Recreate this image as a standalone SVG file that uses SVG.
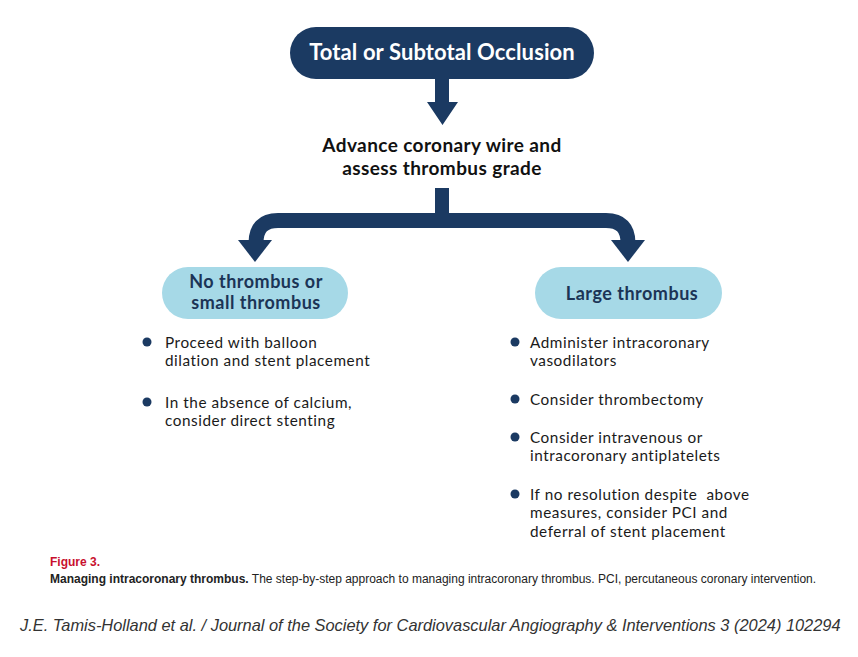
<svg xmlns="http://www.w3.org/2000/svg" width="858" height="657" viewBox="0 0 858 657">
<style>
.navy{fill:#1b3a62}
.pill{fill:#a6d9e7}
.t{font-family:Lato,"Noto Sans","Liberation Sans",sans-serif}
.head{font-size:22px;font-weight:700;fill:#ffffff;letter-spacing:0.1px}
.mid{font-size:19px;font-weight:700;fill:#111111;letter-spacing:0.4px}
.pt{font-size:18px;font-weight:700;fill:#1b3456;letter-spacing:0.5px}
.b{font-size:15.3px;fill:#1a1a1a;letter-spacing:0.55px}
.dot{fill:#1b3a62}
.cap{font-family:"Liberation Sans",Arial,sans-serif;font-size:12px;fill:#222}
.ftr{font-family:"Liberation Sans",Arial,sans-serif;font-size:16.4px;font-style:italic;fill:#333}
</style>
<rect width="858" height="657" fill="#ffffff"/>
<g id="connectors">
<polygon class="navy" points="435,79 449,79 449,102 458,102 442.5,125 427,102 435,102"/>
<rect class="navy" x="435" y="188" width="14" height="26"/>
<path d="M256,241 V243 Q256,220.5 278,220.5 H606 Q628,220.5 628,243 V241" fill="none" stroke="#1b3a62" stroke-width="15"/>
<polygon class="navy" points="238,240 272,240 255,262"/>
<polygon class="navy" points="611,240 645,240 628,262"/>
</g>
<g id="node-occlusion">
<rect class="navy" x="290" y="27" width="304" height="52" rx="26"/>
<text class="t head" x="442" y="60" text-anchor="middle">Total or Subtotal Occlusion</text>
</g>
<g id="node-advance">
<text class="t mid" x="442" y="152" text-anchor="middle">Advance coronary wire and</text>
<text class="t mid" x="442" y="175" text-anchor="middle">assess thrombus grade</text>
</g>
<g id="node-small">
<rect class="pill" x="162" y="267" width="186" height="52" rx="26"/>
<text class="t pt" x="256" y="288" text-anchor="middle">No thrombus or</text>
<text class="t pt" x="256" y="309" text-anchor="middle">small thrombus</text>
</g>
<g id="node-large">
<rect class="pill" x="535" y="267" width="187" height="52" rx="26"/>
<text class="t pt" x="632" y="300" text-anchor="middle">Large thrombus</text>
</g>
<g id="list-small">
<circle class="dot" cx="147" cy="342" r="4.5"/>
<text class="t b" x="165" y="347.5">Proceed with balloon</text>
<text class="t b" x="165" y="366">dilation and stent placement</text>
<circle class="dot" cx="147" cy="402" r="4.5"/>
<text class="t b" x="165" y="407.5">In the absence of calcium,</text>
<text class="t b" x="165" y="426">consider direct stenting</text>
</g>
<g id="list-large">
<circle class="dot" cx="515" cy="342" r="4.5"/>
<text class="t b" x="530" y="347.5">Administer intracoronary</text>
<text class="t b" x="530" y="366">vasodilators</text>
<circle class="dot" cx="515" cy="399" r="4.5"/>
<text class="t b" x="530" y="404.5">Consider thrombectomy</text>
<circle class="dot" cx="515" cy="437" r="4.5"/>
<text class="t b" x="530" y="442.5">Consider intravenous or</text>
<text class="t b" x="530" y="461">intracoronary antiplatelets</text>
<circle class="dot" cx="515" cy="494" r="4.5"/>
<text class="t b" x="530" y="499.5" xml:space="preserve">If no resolution despite  above</text>
<text class="t b" x="530" y="518">measures, consider PCI and</text>
<text class="t b" x="530" y="536.5">deferral of stent placement</text>
</g>
<g id="caption">
<text class="cap" x="50" y="566" style="fill:#c8102e;font-weight:700">Figure 3.</text>
<text class="cap" x="50" y="583"><tspan font-weight="700">Managing intracoronary thrombus.</tspan> The step-by-step approach to managing intracoronary thrombus. PCI, percutaneous coronary intervention.</text>
<text class="ftr" x="20" y="631">J.E. Tamis-Holland et al. / Journal of the Society for Cardiovascular Angiography &amp; Interventions 3 (2024) 102294</text>
</g>
</svg>
